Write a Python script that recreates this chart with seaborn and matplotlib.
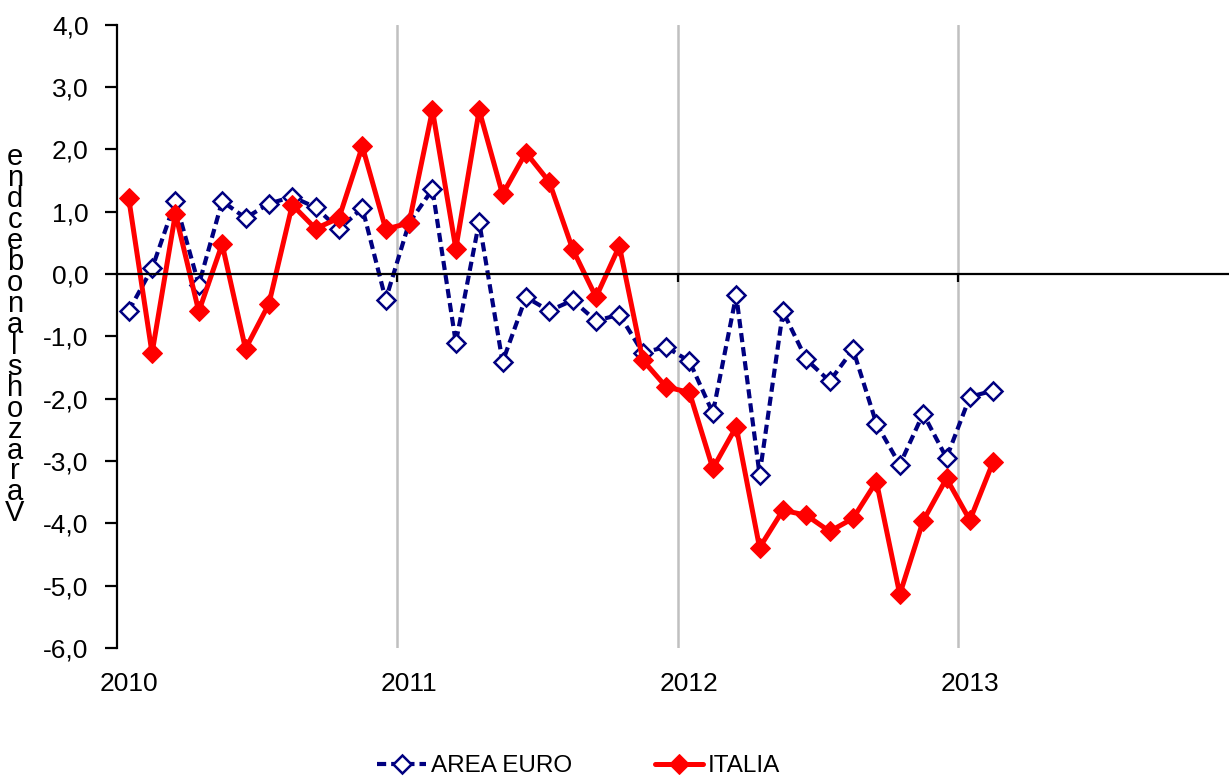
import numpy as np
import matplotlib
matplotlib.use("Agg")
import matplotlib.pyplot as plt
import seaborn as sns
from matplotlib.ticker import FuncFormatter, FixedLocator

# monthly changes, Jan 2010 - Feb 2013
area_euro = [-0.59, 0.09, 1.17, -0.17, 1.17, 0.90, 1.13, 1.24, 1.07, 0.72, 1.06, -0.41,
             0.82, 1.36, -1.10, 0.84, -1.41, -0.37, -0.59, -0.42, -0.75, -0.65, -1.26, -1.17,
             -1.40, -2.23, -0.34, -3.22, -0.60, -1.37, -1.72, -1.21, -2.40, -3.06, -2.24, -2.95,
             -1.97, -1.87]
italia = [1.22, -1.27, 0.97, -0.60, 0.48, -1.20, -0.48, 1.11, 0.73, 0.90, 2.05, 0.72,
          0.82, 2.63, 0.41, 2.63, 1.28, 1.95, 1.48, 0.40, -0.37, 0.45, -1.38, -1.81,
          -1.90, -3.12, -2.45, -4.39, -3.79, -3.87, -4.13, -3.92, -3.33, -5.14, -3.96, -3.28,
          -3.95, -3.01]
years = ["2010", "2011", "2012", "2013"]
ylabel_glyphs = ["e", "n", "d", "c", "e", "b", "o", "n", "a", "l", "s", "h", "o", "z", "a", "r", "a", "V"]

months = np.arange(len(area_euro))

sns.set_style("white")
plt.rcParams["font.family"] = ["Liberation Sans", "DejaVu Sans"]
plt.rcParams["text.color"] = "black"
plt.rcParams["xtick.color"] = "black"
plt.rcParams["ytick.color"] = "black"

fig = plt.figure(figsize=(12.29, 7.76), dpi=100)
ax = fig.add_axes([0.0952, 0.165, 0.905, 0.803])

sns.lineplot(x=months, y=area_euro, ax=ax, color="#000080", lw=3.0, linestyle=(0, (2.2, 1.2)),
             marker="D", markersize=9.5, markerfacecolor="white", markeredgecolor="#000080",
             markeredgewidth=1.8, label="AREA EURO")
sns.lineplot(x=months, y=italia, ax=ax, color="#ff0000", lw=3.6,
             marker="D", markersize=10.5, markerfacecolor="#ff0000", markeredgecolor="#ff0000",
             label="ITALIA")

ax.set_xlim(-0.5, 47.1)
ax.set_ylim(-6, 4)
ax.set_yticks(np.arange(-6, 5, 1))
ax.yaxis.set_major_formatter(FuncFormatter(lambda v, p: f"{v:.1f}".replace(".", ",")))
ax.tick_params(axis="y", labelsize=19, length=8.5, width=1.6, color="black", pad=12, left=True)

# year boundaries: ticks on the zero line plus gray gridlines
ax.spines["bottom"].set_position(("data", 0))
ax.spines["bottom"].set_linewidth(1.6)
ax.spines["bottom"].set_color("black")
ax.spines["left"].set_linewidth(1.6)
ax.spines["left"].set_color("black")
ax.spines["top"].set_visible(False)
ax.spines["right"].set_visible(False)
ax.xaxis.set_major_locator(FixedLocator([11.5, 23.5, 35.5]))
ax.set_xticklabels([])
ax.tick_params(axis="x", bottom=True, length=6, width=1.6, color="black", direction="out")
ax.grid(axis="x", color="#c0c0c0", lw=1.8)
ax.grid(axis="y", visible=False)

sec = ax.secondary_xaxis(0.0)
sec.set_xticks([0, 12, 24, 36])
sec.set_xticklabels(years)
sec.tick_params(length=0, labelsize=19, pad=17, labelcolor="black")
sec.spines["bottom"].set_visible(False)

ax.set_ylabel("")
fig.text(0.012, 0.568, "\n".join(ylabel_glyphs), fontsize=21, linespacing=0.68,
         ha="center", va="center", color="black")

ax.get_legend().remove()
handles, labels = ax.get_legend_handles_labels()
fig.legend(handles, labels, loc="lower center", bbox_to_anchor=(0.471, -0.03), ncol=2,
           frameon=False, fontsize=17.5, handlelength=2.0, handletextpad=0.2, columnspacing=3.4)

fig.savefig("out.png", dpi=100)
